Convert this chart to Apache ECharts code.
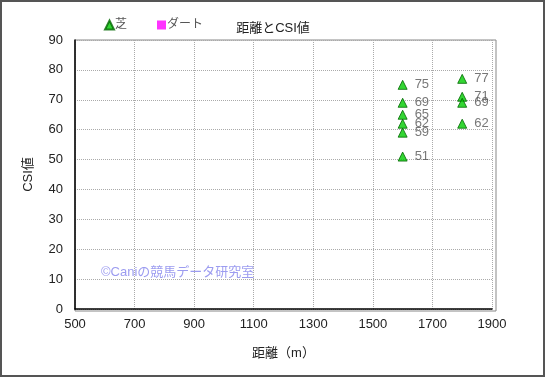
<!DOCTYPE html>
<html><head><meta charset="utf-8">
<script src="https://cdn.jsdelivr.net/npm/echarts@6/dist/echarts.min.js"></script>
<style>html,body{margin:0;padding:0;background:#fff}#c{width:545px;height:377px;box-sizing:border-box;border:2px solid #555}</style>
</head><body><div id="c"></div>
<script>
const turfDist = [1600,1600,1600,1600,1600,1600,1800,1800,1800,1800];
const turfCSI  = [75,69,65,62,59,51,77,71,69,62];
const dirtDist = [];
const dirtCSI  = [];
const xTicks = [500,700,900,1100,1300,1500,1700,1900];
const yTicks = [0,10,20,30,40,50,60,70,80,90];

const chart = echarts.init(document.getElementById('c'), null, {renderer:'canvas'});
const font = '"Liberation Sans", "Noto Sans CJK JP", sans-serif';
const labelStyle = {show:true, position:'right', distance:7, color:'#555', fontSize:13, fontFamily:font, formatter:p=>p.value[1]};
chart.setOption({
  animation:false,
  title:{text:'距離とCSI値', left:266, top:15, textAlign:'center', textStyle:{fontSize:13, fontWeight:'normal', color:'#222', fontFamily:font}},
  legend:{left:97, top:12, itemGap:30, itemWidth:9, itemHeight:9, textStyle:{fontSize:12, color:'#555', padding:[0,0,0,-4], fontFamily:font},
    data:[{name:'芝', icon:'triangle'},{name:'ダート', icon:'rect'}]},
  grid:{left:73, right:51, top:38, bottom:66},
  xAxis:{type:'value', min:500, max:1900, interval:200, name:'距離（m）', nameLocation:'middle', nameGap:38,
    nameTextStyle:{fontSize:13, color:'#222', fontFamily:font},
    axisLine:{show:true, lineStyle:{color:'#000', width:1.5}}, axisTick:{show:false},
    axisLabel:{color:'#222', fontSize:13, margin:9, fontFamily:font, formatter:v=>String(v)},
    splitLine:{show:true, lineStyle:{color:'#aaa', type:'dotted'}}},
  yAxis:{type:'value', min:0, max:90, interval:10, name:'CSI値', nameLocation:'middle', nameGap:40, nameRotate:90,
    nameTextStyle:{fontSize:13, color:'#222', fontFamily:font},
    axisLine:{show:true, lineStyle:{color:'#000', width:1.5}}, axisTick:{show:false},
    axisLabel:{color:'#222', fontSize:13, margin:12, fontFamily:font},
    splitLine:{show:true, lineStyle:{color:'#aaa', type:'dotted'}}},
  graphic:[
    {type:'rect', shape:{x:73, y:38, width:421, height:271}, style:{fill:'none', stroke:'#888', lineWidth:1}, silent:true, z:-1},
    {type:'text', left:99, top:264, style:{text:'©Caniの競馬データ研究室', fill:'#9c9cf0', fontSize:13, fontFamily:font}}
  ],
  series:[
    {name:'芝', type:'scatter', symbol:'triangle', symbolSize:9,
     itemStyle:{color:'#00cc00', borderColor:'#006600', borderWidth:1},
     label:labelStyle, labelLayout:{hideOverlap:false},
     data:turfDist.map((d,i)=>[d,turfCSI[i]])},
    {name:'ダート', type:'scatter', symbol:'rect', symbolSize:8,
     itemStyle:{color:'#ff00ff'}, label:labelStyle,
     data:dirtDist.map((d,i)=>[d,dirtCSI[i]])}
  ]
});
</script></body></html>
